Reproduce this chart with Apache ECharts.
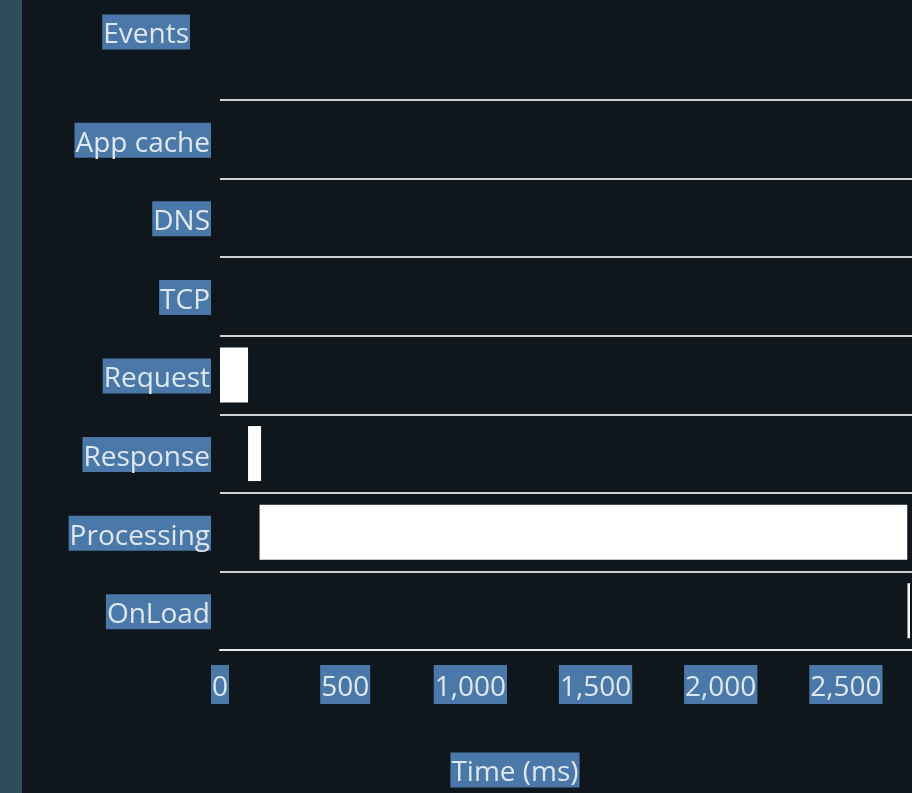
<!DOCTYPE html>
<html>
<head>
<meta charset="utf-8">
<style>
  html, body { margin: 0; padding: 0; background: #0f171c; }
  #chart { width: 912px; height: 793px; }
</style>
<script src="https://cdn.jsdelivr.net/npm/echarts@6/dist/echarts.min.js"></script>
</head>
<body>
<div id="chart"></div>
<script>
// Data
const categories = ['App cache', 'DNS', 'TCP', 'Request', 'Response', 'Processing', 'OnLoad'];
const startMs    = [0, 0, 0, 0, 112, 158, 2746];
const durationMs = [0, 0, 0, 112, 52, 2587, 10];
const xTickInterval = 500;
const xMax = 2764;
const yAxisTitle = 'Events';
const xAxisTitle = 'Time (ms)';

const FONT = 'Open Sans';
const LABEL_BG = '#4a78a8';
const LABEL_FG = '#dfe8f0';
const labelBox = {
  fontFamily: FONT, fontSize: 28, color: LABEL_FG,
  backgroundColor: LABEL_BG, padding: [7, 1, 0, 1], lineHeight: 32
};

const chart = echarts.init(document.getElementById('chart'), null, { renderer: 'canvas' });
chart.setOption({
  backgroundColor: '#0f171c',
  animation: false,
  graphic: [{
    type: 'rect', left: 0, top: 0, z: 0,
    shape: { width: 22, height: 793 },
    style: { fill: '#2e4c5e' }
  }],
  grid: { left: 220, right: 0, top: 100, bottom: 143, containLabel: false },
  xAxis: {
    type: 'value', min: 0, max: xMax, interval: xTickInterval,
    axisLine: { show: true, lineStyle: { color: '#e6e8ea', width: 2 } },
    axisTick: { show: false },
    splitLine: { show: false },
    axisLabel: Object.assign({ margin: 15, showMaxLabel: false }, labelBox),
    name: '{t|' + xAxisTitle + '}{s|}',
    nameLocation: 'middle',
    nameGap: 104,
    nameTextStyle: {
      rich: {
        t: Object.assign({}, labelBox),
        s: { width: 102 }
      }
    }
  },
  yAxis: {
    type: 'category', data: categories, inverse: true,
    axisLine: { show: false },
    axisTick: { show: false },
    splitLine: { show: true, interval: 0, lineStyle: { color: '#cdd1d4', width: 2 } },
    axisLabel: {
      margin: 9, interval: 0, align: 'right',
      formatter: function (v) { return '{s| }\n{t|' + v + '}'; },
      rich: {
        s: { fontSize: 2, lineHeight: 2, height: 2 },
        t: Object.assign({}, labelBox)
      }
    },
    name: '{t|' + yAxisTitle + '}{s|}',
    nameLocation: 'start',
    nameGap: 68,
    nameTextStyle: {
      align: 'right', verticalAlign: 'middle',
      rich: {
        t: Object.assign({}, labelBox),
        s: { width: 30 }
      }
    }
  },
  series: [
    {
      type: 'bar', stack: 'timeline', data: startMs,
      itemStyle: { color: 'transparent' }, silent: true, barWidth: '70%'
    },
    {
      type: 'bar', stack: 'timeline', data: durationMs, barWidth: '70%',
      itemStyle: { color: '#ffffff', borderWidth: 0 }
    }
  ]
});
</script>
</body>
</html>
